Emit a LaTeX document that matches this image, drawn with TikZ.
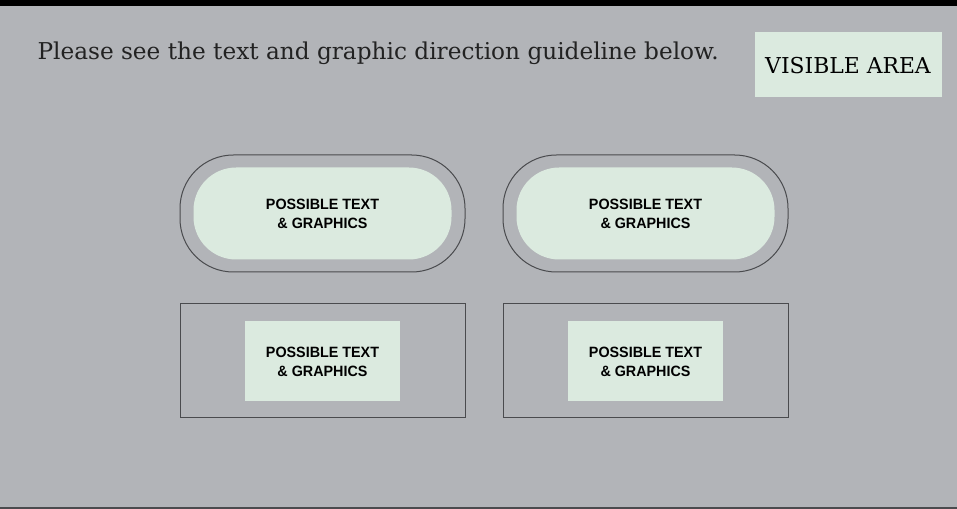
\documentclass[tikz,border=0pt]{standalone}
\usepackage{fontspec}
\setmainfont{DejaVu Serif}
\newfontfamily\labelfont{Liberation Sans}
\usepackage{tikz}

\definecolor{bggray}{HTML}{B2B4B8}
\definecolor{palegreen}{HTML}{DBEADF}
\definecolor{edgegray}{HTML}{4A4B4E}
\definecolor{inkgray}{HTML}{222222}

\begin{document}
\begin{tikzpicture}[x=0.75pt, y=-0.75pt, line width=0.75pt,
  outerpill/.style={draw=edgegray, rectangle, rounded corners=40pt,
    minimum width=213.75pt, minimum height=87.75pt, inner sep=0pt},
  innerpill/.style={fill=palegreen, rectangle, rounded corners=32pt,
    minimum width=193.5pt, minimum height=69pt, inner sep=0pt},
  outerbox/.style={draw=edgegray, rectangle,
    minimum width=213.75pt, minimum height=85.5pt, inner sep=0pt},
  innerbox/.style={fill=palegreen, rectangle,
    minimum width=116.25pt, minimum height=60pt, inner sep=0pt},
  possible/.style={align=center, text=black, font=\labelfont\bfseries\fontsize{11.2}{13.8}\selectfont,
    xscale=0.96, inner sep=0pt}]

\newcommand{\possibletext}{POSSIBLE TEXT\\\& GRAPHICS}

% background and frame bars
\fill[bggray] (0,0) rectangle (957,509);
\fill[black] (0,0) rectangle (957,6);
\fill[edgegray] (0,507) rectangle (957,509);
\useasboundingbox (0,0) rectangle (957,509);

% heading line
\node[anchor=base west, inner sep=0pt, text=inkgray, font=\fontsize{17.4}{20}\selectfont]
  (heading) at (37,59.5) {Please see the text and graphic direction guideline below.};

% visible area tag
\node[fill=palegreen, minimum width=140.25pt, minimum height=48.75pt, inner sep=0pt] (visible) at (848,65) {};
\node[anchor=base, inner sep=0pt, text=black, font=\fontsize{16.4}{19}\selectfont]
  (visibletext) at (visible.center |- 0,74) {VISIBLE AREA};

% draw the pill shapes
\foreach \name/\cx in {left/322.5, right/645.5}
{
    \node[outerpill] (pill-\name) at (\cx,213.5) {};
    \node[innerpill] (pillin-\name) at (\cx,213.5) {};
    \node[possible] (pilltext-\name) at (\cx,214) {\possibletext};
}

% draw the boxes
\foreach \name/\cx in {left/322.5, right/645.5}
{
    \node[outerbox] (box-\name) at (\cx,361) {};
    \node[innerbox] (boxin-\name) at (\cx,361) {};
    \node[possible] (boxtext-\name) at (\cx,362) {\possibletext};
}

\end{tikzpicture}
\end{document}
